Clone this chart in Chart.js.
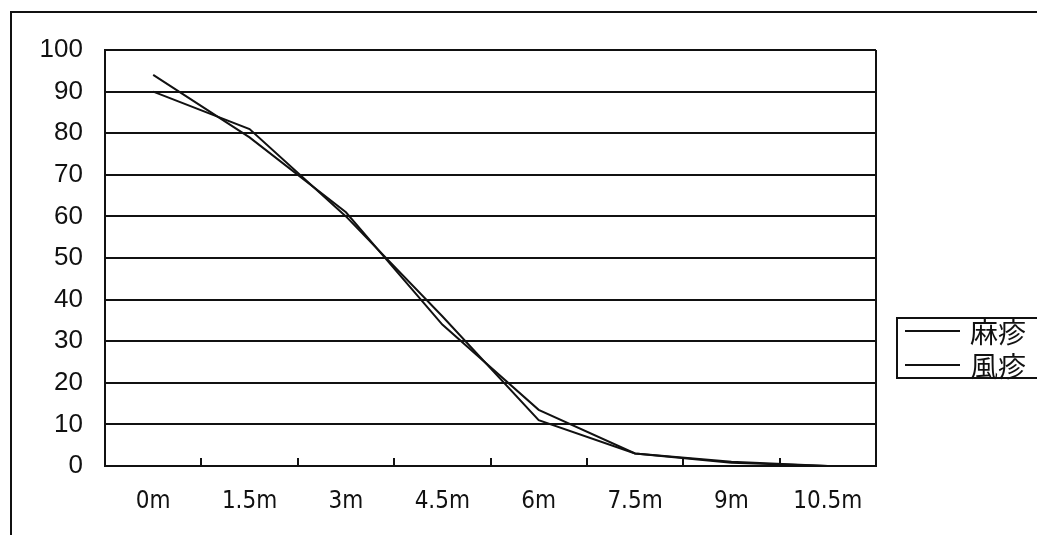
<!DOCTYPE html>
<html>
<head>
<meta charset="utf-8">
<script src="https://cdn.jsdelivr.net/npm/chart.js@4.4.1/dist/chart.umd.min.js"></script>
<style>
  html, body { margin: 0; padding: 0; background: #fff; overflow: hidden; }
  #wrap { position: relative; width: 1037px; height: 535px; }
</style>
</head>
<body>
<div id="wrap"><canvas id="chart"></canvas></div>
<script>
// Data
var distances = ["0m", "1.5m", "3m", "4.5m", "6m", "7.5m", "9m", "10.5m"];
var measles = [94, 79, 61, 34, 13.5, 3, 1, 0];
var rubella = [90, 81, 60, 36, 11, 3, 0.8, 0];
var seriesNames = ["麻疹", "風疹"];
var yMin = 0, yMax = 100, yStep = 10;

var ink = "#111111";

// frame, plot border, inner tick marks and the boxed legend
var decorations = {
    id: 'decorations',
    beforeDraw: function (chart) {
        var ctx = chart.ctx;
        ctx.save();
        ctx.strokeStyle = ink;
        ctx.lineWidth = 2;
        ctx.beginPath();
        ctx.moveTo(11, chart.height);
        ctx.lineTo(11, 12);
        ctx.lineTo(chart.width, 12);
        ctx.stroke();
        ctx.restore();
    },
    afterDatasetsDraw: function (chart) {
        var ctx = chart.ctx;
        var area = chart.chartArea;
        var x = chart.scales.x;
        ctx.save();
        ctx.strokeStyle = ink;
        ctx.lineWidth = 2;

        // right edge of the plot
        ctx.beginPath();
        ctx.moveTo(area.right, area.top);
        ctx.lineTo(area.right, area.bottom);
        ctx.stroke();

        // tick marks pointing up, between categories
        ctx.beginPath();
        for (var i = 1; i < distances.length; i++) {
            var px = Math.round((x.getPixelForTick(i - 1) + x.getPixelForTick(i)) / 2);
            ctx.moveTo(px, area.bottom);
            ctx.lineTo(px, area.bottom - 8);
        }
        ctx.stroke();

        // legend
        var lx = 897, ly = 318, lw = 160, lh = 60;
        ctx.strokeRect(lx, ly, lw, lh);
        ctx.font = '28px "Noto Sans CJK JP", sans-serif';
        ctx.fillStyle = ink;
        ctx.textBaseline = 'middle';
        chart.data.datasets.forEach(function (ds, i) {
            var y = ly + 13 + i * 34;
            ctx.strokeStyle = ds.borderColor;
            ctx.lineWidth = ds.borderWidth;
            ctx.beginPath();
            ctx.moveTo(905, y);
            ctx.lineTo(960, y);
            ctx.stroke();
            ctx.fillText(ds.label, 970, y + 1);
        });
        ctx.restore();
    }
};

var ctx = document.getElementById('chart').getContext('2d');
var myChart = new Chart(ctx, {
    type: 'line',
    data: {
        labels: distances,
        datasets: [{
            label: seriesNames[0],
            data: measles,
            borderColor: ink,
            borderWidth: 2,
            pointRadius: 0,
            tension: 0,
            fill: false
        }, {
            label: seriesNames[1],
            data: rubella,
            borderColor: ink,
            borderWidth: 2,
            pointRadius: 0,
            tension: 0,
            fill: false
        }]
    },
    options: {
        responsive: true,
        maintainAspectRatio: false,
        animation: false,
        layout: {
            padding: { top: 50, right: 161, bottom: 21, left: 40 }
        },
        plugins: {
            legend: { display: false },
            tooltip: { enabled: false }
        },
        scales: {
            x: {
                offset: true,
                afterFit: function (scale) { scale.height = 48; },
                grid: { display: true, drawOnChartArea: false, drawTicks: false, offset: true },
                border: { display: true, color: ink, width: 2 },
                ticks: {
                    color: ink,
                    padding: 21,
                    maxRotation: 0,
                    font: { family: '"Liberation Sans Narrow", "DejaVu Sans Condensed", "Liberation Sans", sans-serif', size: 24 }
                }
            },
            y: {
                min: yMin,
                max: yMax,
                afterFit: function (scale) { scale.width = 65; },
                grid: { color: ink, lineWidth: 2, drawTicks: false },
                border: { display: true, color: ink, width: 2 },
                ticks: {
                    stepSize: yStep,
                    color: ink,
                    padding: 22,
                    font: { family: '"Liberation Sans", Arial, sans-serif', size: 26 }
                }
            }
        }
    },
    plugins: [decorations]
});
</script>
</body>
</html>
